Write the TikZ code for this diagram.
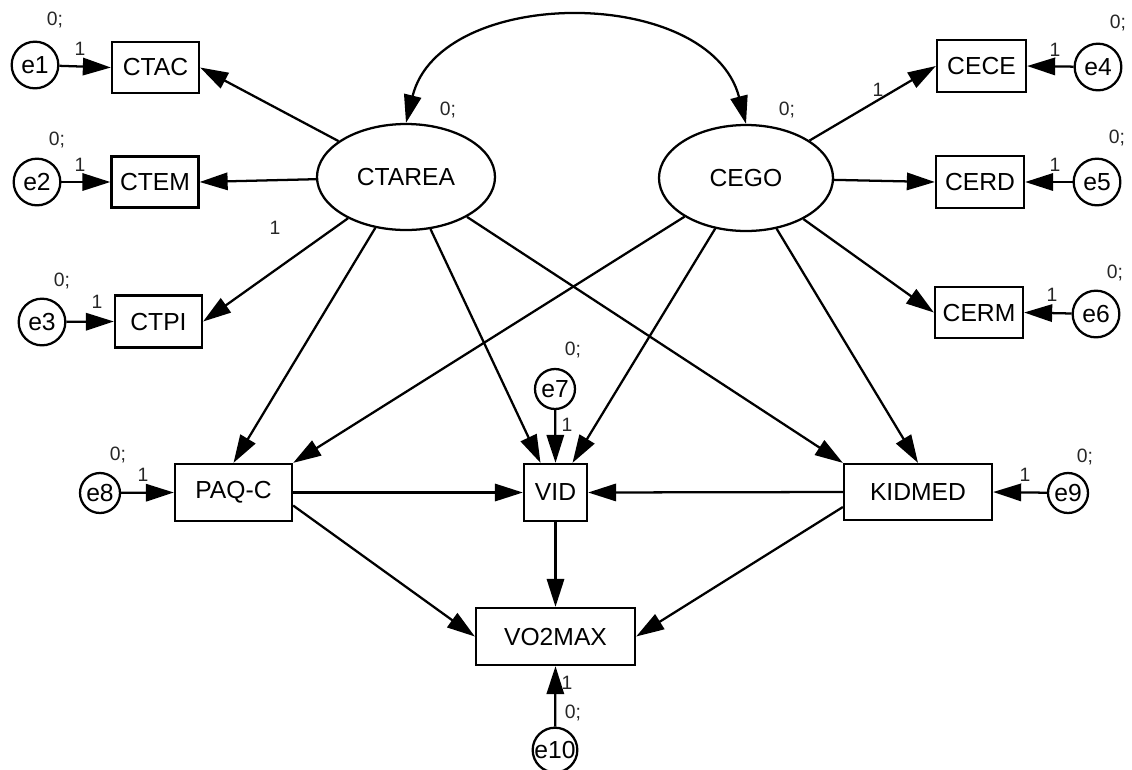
\documentclass[tikz,border=0pt]{standalone}
\usepackage{fontspec}
\setmainfont{Liberation Sans}
\usetikzlibrary{arrows.meta,shapes.geometric,calc}
\begin{document}
\begin{tikzpicture}[x=0.75pt,y=-0.75pt,
  every node/.style={font=\fontsize{18.5}{21}\selectfont},
  obs/.style={draw,line width=1.7pt,rectangle,inner sep=0pt,fill=white},
  lat/.style={draw,line width=1.7pt,ellipse,inner sep=0pt,minimum height=79.5pt},
  err/.style={draw,line width=1.7pt,circle,inner sep=0pt,minimum size=35pt},
  errs/.style={draw,line width=1.7pt,circle,inner sep=0pt,minimum size=30pt},
  arr/.style={line width=1.7pt,-{Triangle[length=21pt,width=13pt]}},
  lbl/.style={font=\fontsize{14.5}{16}\selectfont,text=black!85,inner sep=0pt}
]
\useasboundingbox (0,0) rectangle (1132,769);

% latent variables
\node[lat,minimum width=133.5pt] (ctarea) at (406,177) {CTAREA};
\node[lat,minimum width=130.5pt] (cego) at (746,178) {CEGO};

% observed indicators
\node[obs,minimum width=65.25pt,minimum height=38.25pt] (ctac) at (155.5,67.5) {CTAC};
\node[obs,minimum width=65.25pt,minimum height=38.25pt] (ctem) at (155,182) {CTEM};
\node[obs,minimum width=65.25pt,minimum height=39pt] (ctpi) at (158.5,321.5) {CTPI};
\node[obs,minimum width=66.75pt,minimum height=39pt] (cece) at (981.5,66) {CECE};
\node[obs,minimum width=66pt,minimum height=39pt] (cerd) at (980,182) {CERD};
\node[obs,minimum width=66pt,minimum height=38.25pt] (cerm) at (979,312.5) {CERM};

% structural observed
\node[obs,minimum width=87.75pt,minimum height=42.75pt] (paq) at (233.5,492.5) {PAQ-C};
\node[obs,minimum width=47.25pt,minimum height=42.75pt] (vid) at (555.5,492.5) {VID};
\node[obs,minimum width=111pt,minimum height=42pt] (kid) at (918,492) {KIDMED};
\node[obs,minimum width=119.25pt,minimum height=42.75pt] (vo2) at (555.5,636.5) {VO2MAX};

% errors
\node[err] (e1) at (35,65) {e1};
\node[err] (e2) at (37,182) {e2};
\node[err] (e3) at (42,322) {e3};
\node[err] (e4) at (1098,67) {e4};
\node[err] (e5) at (1097,182) {e5};
\node[err] (e6) at (1096,314) {e6};
\node[errs] (e7) at (555,389) {e7};
\node[errs] (e8) at (100,493) {e8};
\node[errs] (e9) at (1068,493) {e9};
\node[errs] (e10) at (555,750) {e10};

% covariance
\draw[line width=1.7pt,{Triangle[length=21pt,width=13pt]}-{Triangle[length=21pt,width=13pt]}]
  (ctarea.north) .. controls (440,-15) and (710,-15) .. (cego.north);

% measurement paths
\draw[arr] (ctarea) -- (ctac.east);
\draw[arr] (ctarea) -- (ctem.east);
\draw[arr] (ctarea) -- (ctpi.east);
\draw[arr] (cego) -- (cece.west);
\draw[arr] (cego) -- (cerd.west);
\draw[arr] (cego) -- (cerm.west);

% error paths
\draw[arr] (e1) -- (ctac.west);
\draw[arr] (e2) -- (ctem.west);
\draw[arr] (e3) -- (ctpi.west);
\draw[arr] (e4) -- (cece.east);
\draw[arr] (e5) -- (cerd.east);
\draw[arr] (e6) -- (cerm.east);
\draw[arr] (e7) -- (vid.north);
\draw[arr] (e8) -- (paq.west);
\draw[arr] (e9) -- (kid.east);
\draw[arr] (e10) -- (vo2.south);

% structural paths
\coordinate (vidL) at ($(vid.north)+(-15,0)$);
\coordinate (vidR) at ($(vid.north)+(17,0)$);
\draw[arr] (ctarea) -- (paq.north);
\draw[arr] (ctarea) -- (vidL);
\draw[arr] (ctarea) -- (kid.north west);
\draw[arr] (cego) -- (paq.north east);
\draw[arr] (cego) -- (vidR);
\draw[arr] (cego) -- (kid.north);
\draw[arr] (paq.east) -- (vid.west);
\draw[arr] (kid.west) -- (vid.east);
\draw[arr] (vid.south) -- (vo2.north);
\coordinate (paqR) at ($(paq.east)+(0,13)$);
\coordinate (kidL) at ($(kid.west)+(0,15)$);
\draw[arr] (paqR) -- (vo2.west);
\draw[arr] (kidL) -- (vo2.east);

% labels
\foreach \p in {(55,20),(57,140),(62,281),(1118,23),(1117,138),(1115,273),(573,350),(118,455),(1085,457),(573,713),(448,110),(787,110)}
  \node[lbl] at \p {0;};
\foreach \p in {(80,49),(80,165),(97,302),(1055,50),(1055,165),(1052,295),(567,425),(143,475),(1025,475),(567,683),(275,228),(878,90)}
  \node[lbl] at \p {1};
\end{tikzpicture}
\end{document}
